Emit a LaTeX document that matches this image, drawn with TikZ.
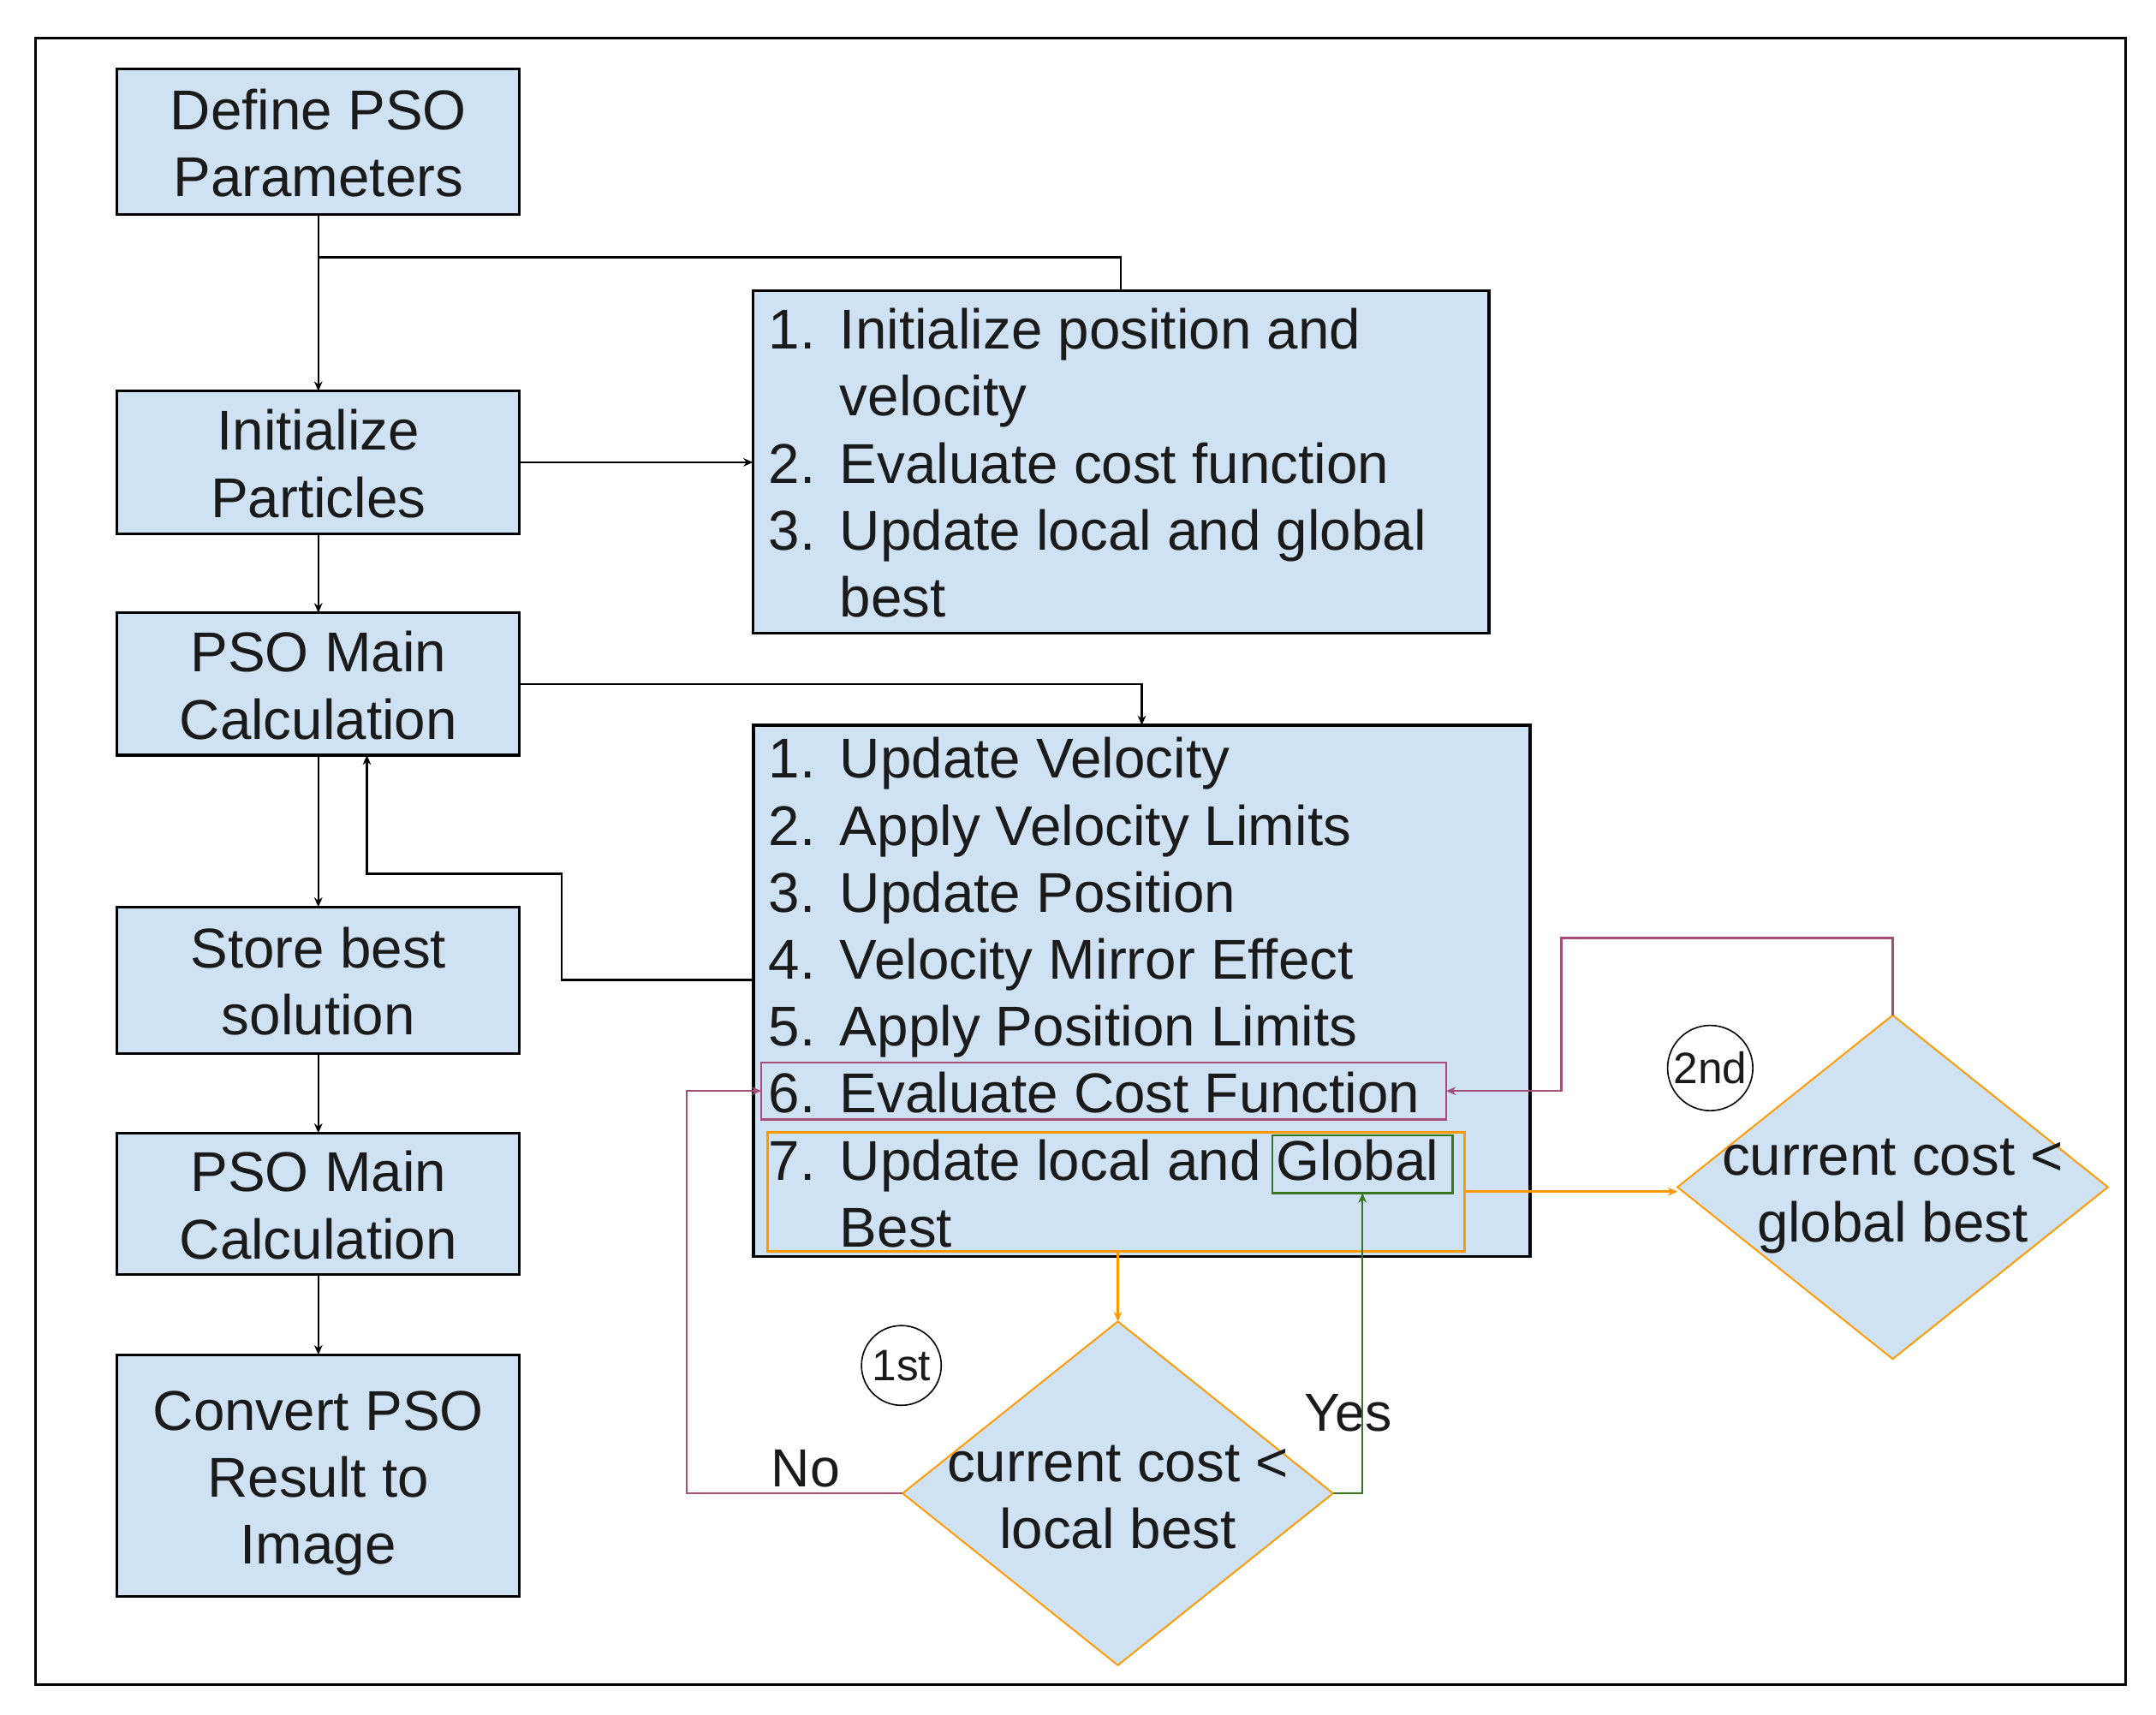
\documentclass[tikz,border=0pt]{standalone}
\usepackage{fontspec}
\setmainfont{Liberation Sans}
\usetikzlibrary{shapes.geometric,arrows.meta}
\definecolor{lblue}{HTML}{CFE2F3}
\definecolor{porange}{HTML}{FF9900}
\definecolor{ppurple}{HTML}{A64D79}
\definecolor{pgreen}{HTML}{38761D}
\definecolor{ink}{HTML}{1A1A1A}
\begin{document}
\begin{tikzpicture}[x=0.5pt,y=-0.5pt,
  every node/.style={inner sep=0pt,outer sep=0pt,text=ink},
  txt/.style={anchor=base,font=\fontsize{20.4}{24.35}\selectfont},
  ltxt/.style={anchor=base west,font=\fontsize{20.4}{24.35}\selectfont},
  box/.style={draw=black,fill=lblue,line width=1pt,minimum width=146.3pt},
  listbox/.style={draw=black,fill=lblue,line width=1pt},
  dia/.style={diamond,draw=porange,fill=lblue,line width=0.6pt,minimum width=156.5pt,minimum height=125pt},
  con/.style={draw=black,line width=0.8pt,-{Stealth[length=3.5pt,width=3pt]}},
  plain/.style={draw=black,line width=0.8pt},
  oarr/.style={draw=porange,line width=0.8pt,-{Stealth[length=3.5pt,width=3pt]}},
  parr/.style={draw=ppurple,line width=0.75pt,-{Stealth[length=3.5pt,width=3pt]}},
  garr/.style={draw=pgreen,line width=0.6pt,-{Stealth[length=3.5pt,width=3pt]}},
  badge/.style={draw=black,circle,line width=0.5pt,font=\fontsize{16}{18}\selectfont}
]
\useasboundingbox (0,0) rectangle (1567.9,1247.2);
\draw[line width=1pt] (26,27.5) rectangle (1546,1225);

% left column
\node[box,minimum height=53pt] (def) at (231.5,103) {};
\node[txt] (def1) at (231.5,94.3) {Define PSO};
\node[txt] (def2) at (231.5,143) {Parameters};

\node[box,minimum height=51.8pt] (ini) at (231.5,336.2) {};
\node[txt] (ini1) at (231.5,327.5) {Initialize};
\node[txt] (ini2) at (231.5,376.2) {Particles};

\node[box,minimum height=51.8pt] (pso) at (231.5,497.4) {};
\node[txt] (pso1) at (231.5,488.7) {PSO Main};
\node[txt] (pso2) at (231.5,537.4) {Calculation};

\node[box,minimum height=53.2pt] (sto) at (231.5,712.8) {};
\node[txt] (sto1) at (231.5,704.1) {Store best};
\node[txt] (sto2) at (231.5,752.8) {solution};

\node[box,minimum height=51.4pt] (psob) at (231.5,875.4) {};
\node[txt] (psob1) at (231.5,866.7) {PSO Main};
\node[txt] (psob2) at (231.5,915.4) {Calculation};

\node[box,minimum height=87.9pt] (cnv) at (231.5,1073.1) {};
\node[txt] (cnv1) at (231.5,1040.1) {Convert PSO};
\node[txt] (cnv2) at (231.5,1088.8) {Result to};
\node[txt] (cnv3) at (231.5,1137.5) {Image};

% box 1
\node[listbox,minimum width=267.6pt,minimum height=124.4pt] (b1) at (815.2,336) {};
\node[ltxt] (b1n1) at (558.9,253.9) {1.};
\node[ltxt] (b1t1) at (610.8,253.9) {Initialize position and};
\node[ltxt] (b1t1b) at (610.8,302.6) {velocity};
\node[ltxt] (b1n2) at (558.9,351.3) {2.};
\node[ltxt] (b1t2) at (610.8,351.3) {Evaluate cost function};
\node[ltxt] (b1n3) at (558.9,400) {3.};
\node[ltxt] (b1t3) at (610.8,400) {Update local and global};
\node[ltxt] (b1t3b) at (610.8,448.7) {best};

% box 2
\node[listbox,minimum width=282.35pt,minimum height=193.2pt] (b2) at (830.35,720.6) {};
\node[ltxt] (b2n1) at (558.9,565.9) {1.};
\node[ltxt] (b2t1) at (610.8,565.9) {Update Velocity};
\node[ltxt] (b2n2) at (558.9,614.6) {2.};
\node[ltxt] (b2t2) at (610.8,614.6) {Apply Velocity Limits};
\node[ltxt] (b2n3) at (558.9,663.3) {3.};
\node[ltxt] (b2t3) at (610.8,663.3) {Update Position};
\node[ltxt] (b2n4) at (558.9,712) {4.};
\node[ltxt] (b2t4) at (610.8,712) {Velocity Mirror Effect};
\node[ltxt] (b2n5) at (558.9,760.7) {5.};
\node[ltxt] (b2t5) at (610.8,760.7) {Apply Position Limits};
\node[ltxt] (b2n6) at (558.9,809.4) {6.};
\node[ltxt] (b2t6) at (610.8,809.4) {Evaluate Cost Function};
\node[ltxt] (b2n7) at (558.9,858.1) {7.};
\node[ltxt] (b2t7) at (610.8,858.1) {Update local and Global};
\node[ltxt] (b2t7b) at (610.8,906.8) {Best};

% highlight boxes
\node[draw=ppurple,line width=0.75pt,minimum width=249.05pt,minimum height=20.8pt] (pbox) at (802.65,793.4) {};
\node[draw=porange,line width=0.95pt,minimum width=253.45pt,minimum height=43.4pt] (obox) at (811.55,866.6) {};
\node[draw=pgreen,line width=0.75pt,minimum width=65.5pt,minimum height=21.1pt] (gbox) at (990.8,846.6) {};

% diamonds
\node[dia] (d1) at (812.9,1086) {};
\node[txt] (d1a) at (812.9,1077.3) {current cost <};
\node[txt] (d1b) at (812.9,1126) {local best};
\node[dia] (d2) at (1376.4,863.3) {};
\node[txt] (d2a) at (1376.4,854.6) {current cost <};
\node[txt] (d2b) at (1376.4,903.3) {global best};

% badges and labels
\node[badge,minimum size=29pt] (c1) at (655.5,993) {1st};
\node[badge,minimum size=31pt] (c2) at (1243.7,776.7) {2nd};
\node[ltxt,font=\fontsize{19.5}{22}\selectfont] (yes) at (948.7,1040.6) {Yes};
\node[ltxt,font=\fontsize{19.5}{22}\selectfont] (no) at (561,1081) {No};

% black connectors
\coordinate (br) at (231.5,187.1);
\draw[con] (def.south) -- (ini.north);
\draw[plain] (br) -| (b1.north);
\draw[con] (ini.east) -- (ini.east -| b1.west);
\draw[con] (ini.south) -- (pso.north);
\draw[con] (pso.east) -| (b2.north);
\draw[con] (548,712.8) -- (408.6,712.8) -- (408.6,635.3) -- (266.8,635.3) -- (266.8,0 |- pso.south);
\draw[con] (pso.south) -- (sto.north);
\draw[con] (sto.south) -- (psob.north);
\draw[con] (psob.south) -- (cnv.north);

% coloured connectors
\draw[oarr] (obox.south -| d1.north) -- (d1.north);
\draw[oarr] (obox.east) -- (obox.east -| d2.west);
\draw[garr] (d1.east) -| (gbox.south);
\draw[parr] (d1.west) -- (499.2,0 |- d1.west) |- (pbox.west);
\draw[parr] (d2.north) |- (1135.4,682.2) |- (pbox.east);
\end{tikzpicture}
\end{document}
